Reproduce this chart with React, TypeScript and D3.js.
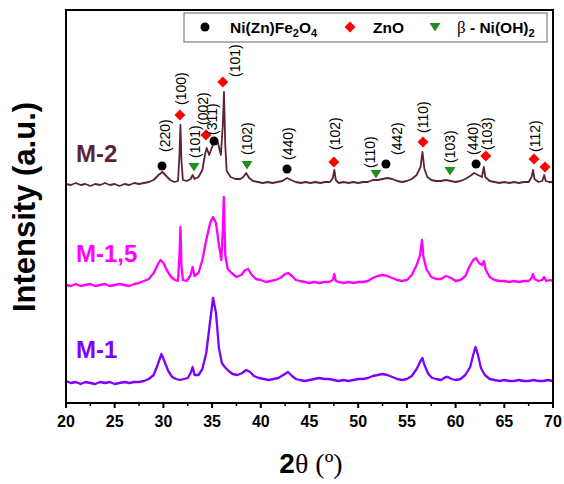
import React from 'react';
import * as d3 from 'd3';

// 2θ (deg) vs intensity above each pattern's own baseline (a.u.)
const m1: [number, number][] = [
  [20, 2], [20.5, 0], [21, 1], [21.5, -1], [22, 1], [22.5, 0], [23, -1], [23.5, 1], [24, 0], [24.5, 1],
  [25, -1], [25.5, 0], [26, 1], [26.5, 0], [27, 1], [27.5, 1], [28, 2], [28.5, 4], [29, 8], [29.4, 18],
  [29.8, 29], [30.1, 22], [30.5, 12], [30.9, 6], [31.3, 4], [31.7, 3], [32.1, 4], [32.5, 5], [32.8, 10], [33.0, 16],
  [33.2, 8], [33.6, 8], [34.0, 14], [34.4, 30], [34.8, 62], [35.1, 85], [35.4, 70], [35.7, 35], [36.0, 20], [36.3, 16],
  [36.7, 12], [37.1, 9], [37.6, 8], [38.1, 10], [38.5, 13], [38.9, 11], [39.3, 7], [39.8, 5], [40.3, 4], [40.8, 3],
  [41.3, 4], [41.8, 5], [42.3, 8], [42.8, 11], [43.2, 7], [43.6, 4], [44, 3], [44.5, 2], [45, 3], [45.5, 4],
  [46, 5], [46.5, 4], [47, 4], [47.5, 3], [48, 2], [48.5, 3], [49, 2], [49.5, 3], [50, 4], [50.5, 4],
  [51, 5], [51.5, 7], [52, 8], [52.5, 9], [53, 8], [53.5, 6], [54, 4], [54.5, 3], [55, 4], [55.5, 7],
  [56, 14], [56.4, 22], [56.6, 25], [56.8, 18], [57.2, 9], [57.6, 5], [58, 4], [58.5, 3], [59, 6], [59.2, 6],
  [59.6, 4], [60, 3], [60.5, 4], [61, 8], [61.5, 16], [61.8, 28], [62.05, 36], [62.3, 28], [62.6, 15], [63, 8],
  [63.5, 4], [64, 3], [64.5, 2], [65, 3], [65.5, 2], [66, 2], [66.5, 3], [67, 2], [67.5, 2], [68, 3],
  [68.5, 2], [69, 2], [69.5, 3], [70, 2],
];

const m15: [number, number][] = [
  [20, 0], [20.5, -1], [21, 1], [21.5, -1], [22, 0], [22.5, 1], [23, -1], [23.5, 0], [24, 1], [24.5, -1],
  [25, 0], [25.5, 1], [26, 0], [26.5, -1], [27, 1], [27.5, 2], [28, 4], [28.5, 6], [29, 12], [29.4, 20],
  [29.7, 25], [30, 22], [30.4, 14], [30.8, 8], [31.2, 5], [31.5, 4], [31.65, 30], [31.75, 58], [31.85, 20], [32.0, 5],
  [32.4, 4], [32.8, 10], [33.0, 18], [33.2, 9], [33.6, 12], [34.0, 25], [34.4, 45], [34.8, 62], [35.1, 68], [35.4, 62],
  [35.7, 40], [35.95, 25], [36.1, 55], [36.2, 88], [36.35, 30], [36.6, 16], [37.0, 12], [37.5, 8], [38.0, 10], [38.4, 15],
  [38.7, 16], [39.0, 11], [39.5, 6], [40, 5], [40.5, 3], [41, 4], [41.5, 5], [42, 7], [42.5, 11], [42.8, 12],
  [43.2, 9], [43.6, 5], [44, 4], [44.5, 3], [45, 2], [45.5, 3], [46, 2], [46.5, 3], [47, 3], [47.4, 5],
  [47.55, 11], [47.7, 4], [48, 3], [48.5, 2], [49, 3], [49.5, 2], [50, 3], [50.5, 3], [51, 4], [51.5, 7],
  [52, 9], [52.5, 10], [53, 9], [53.5, 7], [54, 5], [54.5, 4], [55, 5], [55.5, 10], [56, 20], [56.35, 30],
  [56.55, 45], [56.7, 28], [57, 16], [57.5, 8], [58, 6], [58.5, 6], [59, 9], [59.3, 8], [59.7, 6], [60, 4],
  [60.5, 5], [61, 9], [61.4, 18], [61.8, 25], [62.1, 27], [62.4, 22], [62.7, 20], [62.9, 24], [63.1, 15], [63.5, 8],
  [64, 5], [64.5, 4], [65, 4], [65.5, 3], [66, 4], [66.5, 3], [67, 4], [67.5, 4], [67.8, 7], [67.95, 11],
  [68.1, 6], [68.5, 4], [68.9, 5], [69.1, 8], [69.3, 4], [69.7, 5], [70, 4],
];

const m2: [number, number][] = [
  [20, 1], [20.5, 0], [21, 2], [21.5, 0], [22, 1], [22.5, -1], [23, 1], [23.5, 0], [24, 2], [24.5, 0],
  [25, 1], [25.5, -1], [26, 1], [26.5, 0], [27, 2], [27.5, 1], [28, 2], [28.5, 3], [29, 5], [29.5, 10],
  [29.9, 13], [30.3, 9], [30.7, 5], [31.1, 3], [31.5, 4], [31.65, 30], [31.75, 60], [31.85, 25], [32.0, 5], [32.4, 4],
  [32.8, 6], [33.0, 10], [33.2, 6], [33.6, 8], [34.0, 15], [34.3, 32], [34.45, 37], [34.7, 30], [35.0, 38], [35.3, 45],
  [35.6, 42], [35.9, 30], [36.1, 60], [36.22, 93], [36.35, 40], [36.5, 14], [36.9, 8], [37.4, 6], [37.9, 6], [38.2, 8],
  [38.5, 12], [38.8, 7], [39.2, 4], [39.7, 3], [40.2, 2], [40.7, 3], [41.2, 2], [41.7, 3], [42.2, 4], [42.7, 7],
  [43.1, 5], [43.6, 3], [44.1, 2], [44.6, 3], [45.1, 2], [45.6, 3], [46.1, 2], [46.6, 3], [47.1, 3], [47.4, 7],
  [47.55, 15], [47.7, 5], [48.0, 2], [48.5, 3], [49, 2], [49.5, 3], [50, 2], [50.5, 3], [51, 3], [51.5, 5],
  [52, 5], [52.5, 6], [53, 7], [53.5, 6], [54, 4], [54.5, 3], [55, 4], [55.5, 6], [56.0, 10], [56.4, 18],
  [56.6, 33], [56.8, 16], [57.1, 8], [57.5, 5], [58, 4], [58.5, 4], [59.0, 5], [59.5, 4], [60, 3], [60.5, 4],
  [61, 6], [61.5, 9], [61.9, 12], [62.3, 10], [62.7, 8], [62.9, 18], [63.05, 8], [63.5, 4], [64, 3], [64.5, 2],
  [65, 3], [65.5, 2], [66, 3], [66.5, 2], [67, 3], [67.5, 3], [67.8, 8], [67.95, 15], [68.1, 6], [68.5, 3],
  [68.9, 4], [69.1, 10], [69.25, 4], [69.6, 3], [70, 3],
];

const sampleNames = ['M-1', 'M-1,5', 'M-2'];
const sampleOffsets = [20, 118, 218];
const xTicks = [20, 25, 30, 35, 40, 45, 50, 55, 60, 65, 70];

// phase markers on the M-2 pattern: phase, 2θ, hkl, marker intensity
const refPhase = ['spinel', 'zno', 'ohx', 'zno', 'spinel', 'zno', 'ohx', 'spinel', 'zno', 'ohx', 'spinel', 'zno', 'ohx', 'spinel', 'zno', 'zno', 'zno'];
const refTheta = [29.86, 31.7, 33.14, 34.37, 35.2, 36.1, 38.58, 42.69, 47.5, 51.83, 52.85, 56.65, 59.43, 62.1, 63.1, 68.05, 69.18];
const refHkl = ['(220)', '(100)', '(101)', '(002)', '(311)', '(101)', '(102)', '(440)', '(102)', '(110)', '(442)', '(110)', '(103)', '(440)', '(103)', '(112)', ''];
const refLevel = [237, 288, 236, 268, 262, 321, 238, 234, 241, 229, 239, 261, 232, 239, 247, 244, 236];

const W = 564;
const H = 484;
const M = { left: 66, right: 553, top: 10, bottom: 403 };
const colors = ['#7f00ff', '#ff00ff', '#5a2336'];
const labelDx = [3, 1, 1, -3, -2, 12, 0, 1, 1, -6, 11, 0, 0, -3, 1, 1, 0];
const labelGap = [14, 10, 9, 10, 6, 5, 10, 9, 12, 6, 9, 9, 8, 9, 6, 7, 0];
const nameY = [358, 262, 162];
const sans = '"Liberation Sans", Arial, sans-serif';
const serif = '"Liberation Serif", "Times New Roman", serif';

const Marker = ({ phase, x, y }: { phase: string; x: number; y: number }) => {
  if (phase === 'spinel') return <circle cx={x} cy={y} r={4.5} fill="#000" />;
  if (phase === 'zno')
    return <path d={`M${x},${y - 5.5}L${x + 5.5},${y}L${x},${y + 5.5}L${x - 5.5},${y}Z`} fill="#f00" />;
  return <path d={`M${x - 5.5},${y - 4}L${x + 5.5},${y - 4}L${x},${y + 4.5}Z`} fill="#1f8f1f" />;
};

export default function App() {
  const x = d3.scaleLinear().domain([20, 70]).range([M.left, M.right]);
  const y = d3.scaleLinear().domain([0, 393]).range([M.bottom, M.top]);
  const series = [m1, m15, m2];
  const minor = d3.range(22.5, 70, 5);

  return (
    <svg width={W} height={H} style={{ position: 'absolute', left: 0, top: 0 }}>
      <defs>
        <clipPath id="plot">
          <rect x={M.left} y={M.top} width={M.right - M.left} height={M.bottom - M.top} />
        </clipPath>
      </defs>
      <rect width={W} height={H} fill="#fff" />
      <g clipPath="url(#plot)">
        {series.map((s, i) => {
          const line = d3
            .line<[number, number]>()
            .x((d) => x(d[0]))
            .y((d) => y(d[1] + sampleOffsets[i]))
            .curve(d3.curveLinear);
          return (
            <path key={i} d={line(s) ?? ''} fill="none" stroke={colors[i]} strokeWidth={i === 2 ? 1.8 : 2.3} strokeLinejoin="round" />
          );
        })}
      </g>
      {sampleNames.map((n, i) => (
        <text key={n} x={76} y={nameY[i]} fill={colors[i]} fontFamily={sans} fontWeight="bold" fontSize={24}>
          {n}
        </text>
      ))}
      {refTheta.map((t, i) => {
        const mx = x(t);
        const my = y(refLevel[i]);
        return (
          <g key={i}>
            <Marker phase={refPhase[i]} x={mx} y={my} />
            {refHkl[i] && (
              <text
                transform={`translate(${mx + labelDx[i] + 5},${my - labelGap[i]}) rotate(-90)`}
                fontFamily={sans}
                fontSize={14}
                fill="#000"
              >
                {refHkl[i]}
              </text>
            )}
          </g>
        );
      })}
      {/* frame */}
      <rect x={M.left} y={M.top} width={M.right - M.left} height={M.bottom - M.top} fill="none" stroke="#000" strokeWidth={2} />
      {xTicks.map((t) => (
        <g key={t}>
          <line x1={x(t)} x2={x(t)} y1={M.bottom} y2={M.bottom + 5} stroke="#000" strokeWidth={2} />
          <text x={x(t)} y={427} textAnchor="middle" fontFamily={sans} fontWeight="bold" fontSize={16}>
            {t}
          </text>
        </g>
      ))}
      {minor.map((t) => (
        <line key={t} x1={x(t)} x2={x(t)} y1={M.bottom} y2={M.bottom + 3} stroke="#000" strokeWidth={1.5} />
      ))}
      <text x={311} y={473} textAnchor="middle" fontSize={28} fill="#000">
        <tspan fontFamily={sans} fontWeight="bold">2</tspan>
        <tspan fontFamily={serif}>θ (º)</tspan>
      </text>
      <text transform="translate(35,207) rotate(-90)" textAnchor="middle" fontFamily={sans} fontWeight="bold" fontSize={31}>
        Intensity (a.u.)
      </text>
      {/* legend */}
      <rect x={184} y={13} width={363} height={29} fill="#fff" stroke="#666" strokeWidth={1} />
      <Marker phase="spinel" x={205} y={27} />
      <text x={230} y={32.5} fontFamily={sans} fontWeight="bold" fontSize={15.5}>
        Ni(Zn)Fe<tspan fontSize={11} dy={4}>2</tspan>
        <tspan dy={-4}>O</tspan>
        <tspan fontSize={11} dy={4}>4</tspan>
      </text>
      <Marker phase="zno" x={350} y={27} />
      <text x={373} y={32.5} fontFamily={sans} fontWeight="bold" fontSize={15.5}>
        ZnO
      </text>
      <Marker phase="ohx" x={435} y={27} />
      <text x={457} y={32.5} fontFamily={sans} fontWeight="bold" fontSize={15.5}>
        <tspan fontFamily={serif} fontWeight="normal" fontSize={17}>β</tspan>
        <tspan> - Ni(OH)</tspan>
        <tspan fontSize={11} dy={4}>2</tspan>
      </text>
    </svg>
  );
}
